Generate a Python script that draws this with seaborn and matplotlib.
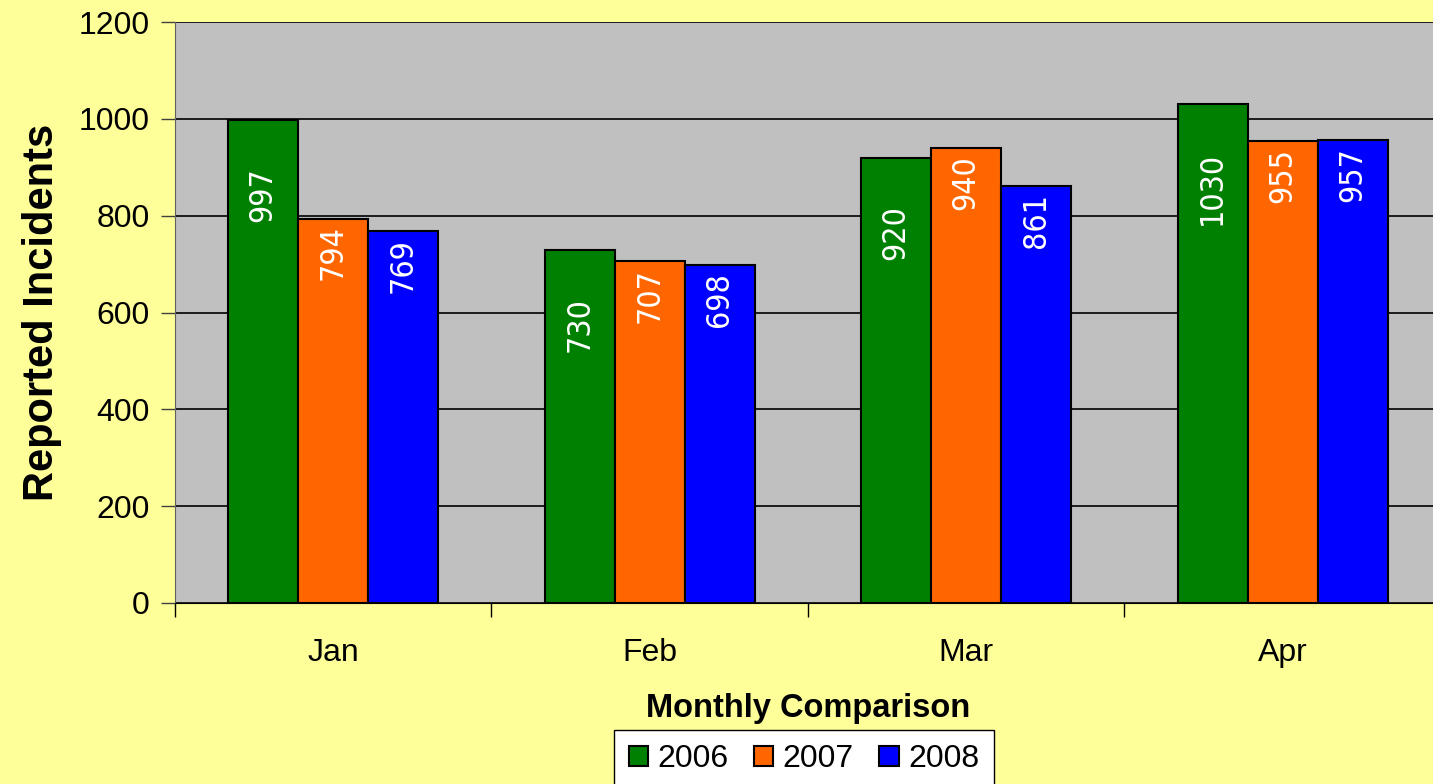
import seaborn as sns
import numpy as np
import pandas as pd
import matplotlib.pyplot as plt
from matplotlib.ticker import FixedLocator, NullFormatter

months = ['Jan', 'Feb', 'Mar', 'Apr']
years = ['2006', '2007', '2008']
incidents_2006 = [997, 730, 920, 1030]
incidents_2007 = [794, 707, 940, 955]
incidents_2008 = [769, 698, 861, 957]

COLORS = {'2006': '#008000', '2007': '#FF6600', '2008': '#0000FF'}
# label drop below bar top, in points (Excel put the green ones lower)
LABEL_DROP = {'2006': 34, '2007': 5, '2008': 5}

df = pd.DataFrame({
    'month': months * 3,
    'year': [y for y in years for _ in months],
    'value': incidents_2006 + incidents_2007 + incidents_2008,
})

plt.rcParams['font.family'] = ['Liberation Sans', 'DejaVu Sans']

fig = plt.figure(figsize=(14.33, 7.84), dpi=100, facecolor='#FFFF99')
ax = fig.add_axes([0.1221, 0.2309, 0.8834, 0.741])
ax.set_facecolor('#C0C0C0')

sns.barplot(data=df, x='month', y='value', hue='year', order=months,
            hue_order=years, palette=COLORS, width=0.6635, saturation=1,
            edgecolor='black', linewidth=1.5, ax=ax, zorder=3)

for year, cont in zip(years, ax.containers):
    for bar in cont:
        h = bar.get_height()
        ax.annotate(f'{int(h)}', (bar.get_x() + bar.get_width() / 2, h),
                    xytext=(0, -LABEL_DROP[year]), textcoords='offset points',
                    rotation=90, ha='center', va='top', color='white',
                    fontsize=23, family='DejaVu Sans', fontstretch='condensed',
                    zorder=5)

ax.set_ylim(0, 1200)
ax.set_xlim(-0.5, 3.5)
ax.set_yticks(np.arange(0, 1201, 200))
ax.yaxis.grid(True, color='black', linewidth=1.2, zorder=0)
ax.set_axisbelow(True)
ax.tick_params(axis='y', labelsize=23, length=10, width=1, color='#404040', pad=8)
ax.tick_params(axis='x', which='major', labelsize=23, length=0, pad=25)
ax.xaxis.set_minor_locator(FixedLocator([-0.5, 0.5, 1.5, 2.5, 3.5]))
ax.xaxis.set_minor_formatter(NullFormatter())
ax.tick_params(axis='x', which='minor', length=10, width=1, color='black')

for side in ['top', 'right']:
    ax.spines[side].set_visible(False)
ax.spines['left'].set_color('#606060')
ax.spines['bottom'].set_color('black')

ax.set_ylabel('Reported Incidents', fontsize=30, fontweight='bold', labelpad=12)
ax.set_xlabel('Monthly Comparison', fontsize=23.5, fontweight='bold', labelpad=18)

ax.legend(loc='upper center', bbox_to_anchor=(0.5 * 1258 / 1266, -0.2186), ncol=3,
          fontsize=23, frameon=True, fancybox=False, edgecolor='black',
          framealpha=1, facecolor='white', handlelength=0.6, handleheight=0.6,
          handletextpad=0.3, columnspacing=0.8, borderpad=0.45, borderaxespad=0)

plt.savefig('out.png', dpi=100, facecolor=fig.get_facecolor())
